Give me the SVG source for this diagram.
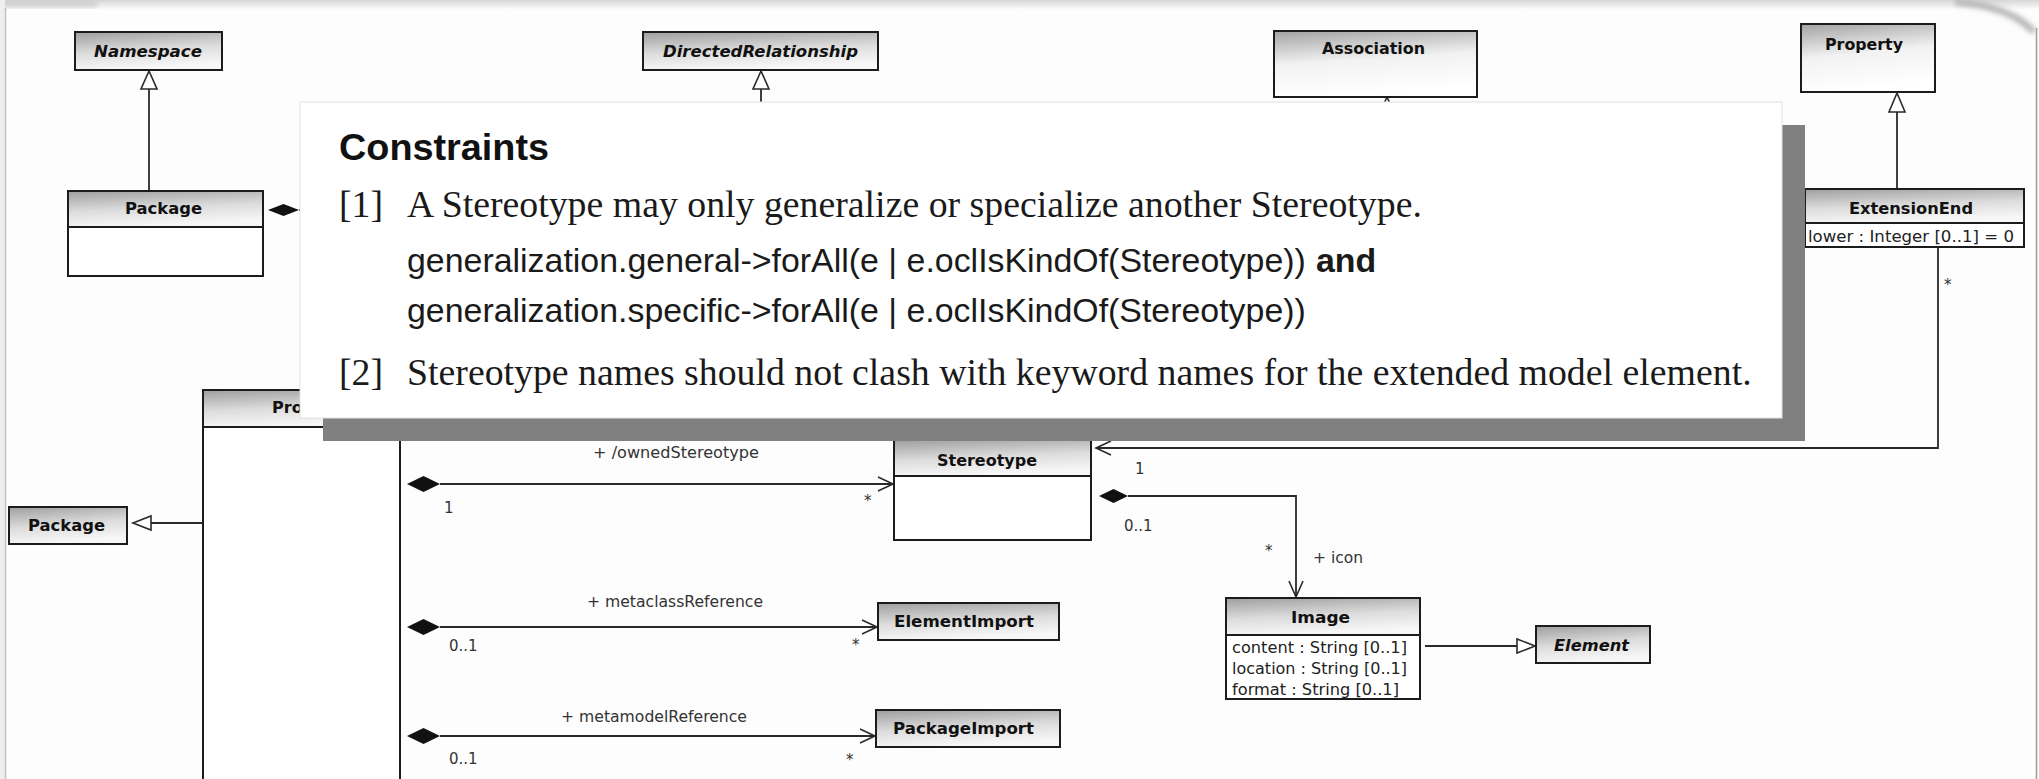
<svg xmlns="http://www.w3.org/2000/svg" width="2039" height="779" viewBox="0 0 2039 779">
  <defs>
    <linearGradient id="g-hdr" x1="0" y1="0" x2="0.25" y2="1">
      <stop offset="0" stop-color="#9e9e9e"/>
      <stop offset="0.55" stop-color="#dcdcdc"/>
      <stop offset="1" stop-color="#f7f7f7"/>
    </linearGradient>
    <linearGradient id="g-tall" x1="0" y1="0" x2="0.2" y2="1">
      <stop offset="0" stop-color="#a2a2a2"/>
      <stop offset="0.5" stop-color="#f2f2f2"/>
      <stop offset="1" stop-color="#ffffff"/>
    </linearGradient>
    <linearGradient id="g-top" x1="0" y1="0" x2="0" y2="1">
      <stop offset="0" stop-color="#d6d6d6"/>
      <stop offset="1" stop-color="#fbfbfb"/>
    </linearGradient>
    <filter id="soft" x="-20%" y="-20%" width="140%" height="140%">
      <feGaussianBlur stdDeviation="2.5"/>
    </filter>
    <style>
      .box  { fill: #ffffff; stroke: #1c1c1c; stroke-width: 2; }
      .hdr  { fill: url(#g-hdr); stroke: #1c1c1c; stroke-width: 2; }
      .tall { fill: url(#g-tall); stroke: #1c1c1c; stroke-width: 2; }
      .div  { stroke: #1c1c1c; stroke-width: 2; }
      .cn   { font-family: "DejaVu Sans", "Liberation Sans", sans-serif; font-weight: bold; font-size: 16px; fill: #111111; }
      .it   { font-style: italic; }
      .attr { font-family: "DejaVu Sans", "Liberation Sans", sans-serif; font-size: 15px; fill: #222222; }
      .lbl  { font-family: "DejaVu Sans", "Liberation Sans", sans-serif; font-size: 15px; fill: #333333; }
      .edge { stroke: #2a2a2a; stroke-width: 1.8; fill: none; }
      .tri  { fill: #ffffff; stroke: #2a2a2a; stroke-width: 1.6; }
      .open { stroke: #2a2a2a; stroke-width: 1.6; fill: none; }
      .dia  { fill: #111111; }
      .h1   { font-family: "Liberation Sans", Arial, sans-serif; font-weight: bold; font-size: 37.8px; fill: #111111; }
      .tm   { font-family: "Liberation Serif", "Times New Roman", serif; font-size: 37.8px; fill: #1a1a1a; }
      .ocl  { font-family: "Liberation Sans", Arial, sans-serif; font-size: 33.9px; fill: #1a1a1a; }
    </style>
  </defs>

  <!-- page -->
  <rect x="0" y="0" width="2039" height="779" fill="#fdfdfd"/>
  <g id="frame">
    <rect x="0" y="0" width="2039" height="9" fill="url(#g-top)"/>
    <rect x="0" y="0" width="97" height="7" fill="#cfcfcf" filter="url(#soft)"/>
    <rect x="0" y="0" width="5" height="779" fill="#efefef"/>
    <line x1="5.5" y1="8" x2="5.5" y2="779" stroke="#c2c2c2" stroke-width="1.5"/>
    <line x1="2036.5" y1="28" x2="2036.5" y2="779" stroke="#9c9c9c" stroke-width="1.5"/>
    <path d="M1955,2 Q2010,6 2034,32" stroke="#b8b8b8" stroke-width="7" fill="none" filter="url(#soft)"/>
  </g>

  <!-- connectors -->
  <g id="connectors">
    <!-- Package -> Namespace -->
    <line class="edge" x1="149" y1="191" x2="149" y2="89"/>
    <polygon class="tri" points="149,71 141,89 157,89"/>
    <!-- toward DirectedRelationship -->
    <line class="edge" x1="761" y1="110" x2="761" y2="89"/>
    <polygon class="tri" points="761,71 753,89 769,89"/>
    <!-- toward Association -->
    <line class="edge" x1="1387" y1="115" x2="1387" y2="130"/>
    <polygon class="tri" points="1387,97 1379,115 1395,115"/>
    <!-- Package composite end -->
    <polygon class="dia" points="268,210 283.5,204 299,210 283.5,216"/>
    <line class="edge" x1="299" y1="210" x2="330" y2="210"/>
    <!-- ExtensionEnd -> Property -->
    <line class="edge" x1="1897" y1="189" x2="1897" y2="112"/>
    <polygon class="tri" points="1897,93 1889,112 1905,112"/>
    <!-- ExtensionEnd -> Stereotype -->
    <polyline class="edge" points="1938,247 1938,448 1096,448"/>
    <polyline class="open" points="1111,441 1096,448 1111,455"/>
    <text class="lbl" x="1944" y="290">*</text>
    <text class="lbl" x="1135" y="474">1</text>
    <!-- Profile -> Package -->
    <line class="edge" x1="203" y1="523" x2="151" y2="523"/>
    <polygon class="tri" points="133,523 151,516 151,530"/>
    <!-- Profile -> Stereotype -->
    <polygon class="dia" points="407,484 423.5,476 440,484 423.5,492"/>
    <line class="edge" x1="440" y1="484" x2="893" y2="484"/>
    <polyline class="open" points="878,477 893,484 878,491"/>
    <text class="lbl" x="593" y="458" textLength="166" lengthAdjust="spacingAndGlyphs">+ /ownedStereotype</text>
    <text class="lbl" x="444" y="513">1</text>
    <text class="lbl" x="864" y="506">*</text>
    <!-- Profile -> ElementImport -->
    <polygon class="dia" points="407,627 423.5,619 440,627 423.5,635"/>
    <line class="edge" x1="440" y1="627" x2="877" y2="627"/>
    <polyline class="open" points="862,620 877,627 862,634"/>
    <text class="lbl" x="587" y="607" textLength="176" lengthAdjust="spacingAndGlyphs">+ metaclassReference</text>
    <text class="lbl" x="449" y="651">0..1</text>
    <text class="lbl" x="852" y="650">*</text>
    <!-- Profile -> PackageImport -->
    <polygon class="dia" points="407,736 423.5,728 440,736 423.5,744"/>
    <line class="edge" x1="440" y1="736" x2="875" y2="736"/>
    <polyline class="open" points="860,729 875,736 860,743"/>
    <text class="lbl" x="561" y="722" textLength="186" lengthAdjust="spacingAndGlyphs">+ metamodelReference</text>
    <text class="lbl" x="449" y="764">0..1</text>
    <text class="lbl" x="846" y="765">*</text>
    <!-- Stereotype -> Image -->
    <polygon class="dia" points="1099,496 1113.5,489 1128,496 1113.5,503"/>
    <polyline class="edge" points="1128,496 1296,496 1296,597"/>
    <polyline class="open" points="1289,581 1296,597 1303,581"/>
    <text class="lbl" x="1124" y="531">0..1</text>
    <text class="lbl" x="1265" y="556">*</text>
    <text class="lbl" x="1313" y="563" textLength="50" lengthAdjust="spacingAndGlyphs">+ icon</text>
    <!-- Image -> Element -->
    <line class="edge" x1="1425" y1="646" x2="1517" y2="646"/>
    <polygon class="tri" points="1535,646 1517,639 1517,653"/>
  </g>

  <!-- classes -->
  <g id="namespace">
    <rect class="hdr" x="75" y="32" width="147" height="38"/>
    <text class="cn it" x="94" y="57" textLength="108" lengthAdjust="spacingAndGlyphs">Namespace</text>
  </g>
  <g id="package-top">
    <rect class="box" x="68" y="191" width="195" height="85"/>
    <rect class="hdr" x="68" y="191" width="195" height="36"/>
    <text class="cn" x="125" y="214" textLength="77" lengthAdjust="spacingAndGlyphs">Package</text>
  </g>
  <g id="directed-relationship">
    <rect class="hdr" x="643" y="32" width="235" height="38"/>
    <text class="cn it" x="663" y="57" textLength="195" lengthAdjust="spacingAndGlyphs">DirectedRelationship</text>
  </g>
  <g id="association">
    <rect class="tall" x="1274" y="31" width="203" height="66"/>
    <text class="cn" x="1322" y="54" textLength="103" lengthAdjust="spacingAndGlyphs">Association</text>
  </g>
  <g id="property">
    <rect class="tall" x="1801" y="24" width="134" height="68"/>
    <text class="cn" x="1825" y="50" textLength="78" lengthAdjust="spacingAndGlyphs">Property</text>
  </g>
  <g id="extension-end">
    <rect class="box" x="1805" y="189" width="219" height="58"/>
    <rect class="hdr" x="1805" y="189" width="219" height="34"/>
    <text class="cn" x="1849" y="214" textLength="124" lengthAdjust="spacingAndGlyphs">ExtensionEnd</text>
    <text class="attr" x="1808" y="242" textLength="206" lengthAdjust="spacingAndGlyphs">lower : Integer [0..1] = 0</text>
  </g>
  <g id="profile">
    <rect class="box" x="203" y="390" width="197" height="400"/>
    <rect class="hdr" x="203" y="390" width="197" height="37"/>
    <text class="cn" x="272" y="413" textLength="59" lengthAdjust="spacingAndGlyphs">Profile</text>
  </g>
  <g id="package">
    <rect class="hdr" x="9" y="507" width="118" height="37"/>
    <text class="cn" x="28" y="531" textLength="77" lengthAdjust="spacingAndGlyphs">Package</text>
  </g>
  <g id="stereotype">
    <rect class="box" x="894" y="440" width="197" height="100"/>
    <rect class="hdr" x="894" y="440" width="197" height="36"/>
    <text class="cn" x="937" y="466" textLength="100" lengthAdjust="spacingAndGlyphs">Stereotype</text>
  </g>
  <g id="element-import">
    <rect class="hdr" x="878" y="603" width="181" height="37"/>
    <text class="cn" x="894" y="627" textLength="140" lengthAdjust="spacingAndGlyphs">ElementImport</text>
  </g>
  <g id="package-import">
    <rect class="hdr" x="876" y="710" width="184" height="37"/>
    <text class="cn" x="893" y="734" textLength="141" lengthAdjust="spacingAndGlyphs">PackageImport</text>
  </g>
  <g id="image">
    <rect class="box" x="1226" y="598" width="194" height="101"/>
    <rect class="hdr" x="1226" y="598" width="194" height="37"/>
    <text class="cn" x="1291" y="623" textLength="59" lengthAdjust="spacingAndGlyphs">Image</text>
    <text class="attr" x="1232" y="653" textLength="175" lengthAdjust="spacingAndGlyphs">content : String [0..1]</text>
    <text class="attr" x="1232" y="674" textLength="175" lengthAdjust="spacingAndGlyphs">location : String [0..1]</text>
    <text class="attr" x="1232" y="695" textLength="167" lengthAdjust="spacingAndGlyphs">format : String [0..1]</text>
  </g>
  <g id="element">
    <rect class="hdr" x="1536" y="626" width="114" height="37"/>
    <text class="cn it" x="1554" y="651" textLength="75" lengthAdjust="spacingAndGlyphs">Element</text>
  </g>

  <!-- constraints note laid over the diagram -->
  <g id="constraints">
    <rect x="323" y="125" width="1482" height="316" fill="#808080"/>
    <rect x="300" y="102" width="1482" height="316" fill="#ffffff" stroke="#e2e2e2" stroke-width="1"/>
    <text class="h1" x="339" y="160">Constraints</text>
    <text class="tm" x="339" y="217">[1]</text>
    <text class="tm" x="407" y="217">A Stereotype may only generalize or specialize another Stereotype.</text>
    <text class="ocl" x="407" y="272">generalization.general-&gt;forAll(e | e.oclIsKindOf(Stereotype))</text>
    <text class="ocl" x="1316" y="272" font-weight="bold">and</text>
    <text class="ocl" x="407" y="322">generalization.specific-&gt;forAll(e | e.oclIsKindOf(Stereotype))</text>
    <text class="tm" x="339" y="385">[2]</text>
    <text class="tm" x="407" y="385">Stereotype names should not clash with keyword names for the extended model element.</text>
  </g>
</svg>
